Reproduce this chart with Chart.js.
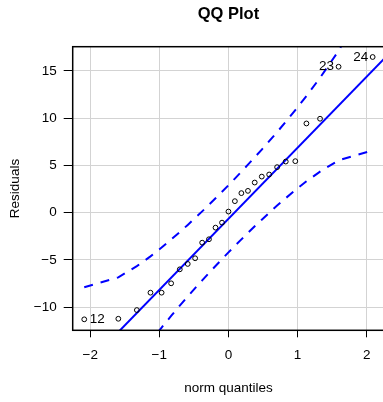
<!DOCTYPE html>
<html>
<head>
<meta charset="utf-8">
<script src="https://cdn.jsdelivr.net/npm/chart.js@4/dist/chart.umd.min.js"></script>
<style>
  html, body { margin: 0; padding: 0; background: #fff; overflow: hidden; }
  #wrap { width: 385px; height: 402px; }
  canvas { display: block; }
</style>
</head>
<body>
<div id="wrap"><canvas id="qq" width="385" height="402"></canvas></div>
<script>
// theoretical normal quantiles (x) and sorted residuals (y)
var normQuantiles = [-2.086, -1.593, -1.325, -1.128, -0.967, -0.829, -0.704, -0.589, -0.482,
    -0.380, -0.282, -0.187, -0.093, 0, 0.093, 0.187, 0.282, 0.380, 0.482, 0.589, 0.704,
    0.829, 0.967, 1.128, 1.325, 1.593, 2.086];
var residuals = [-11.29, -11.23, -10.31, -8.47, -8.47, -7.48, -6.00, -5.43, -4.83,
    -3.18, -2.82, -1.59, -1.06, 0.11, 1.21, 2.06, 2.30, 3.18, 3.81, 4.03, 4.81,
    5.40, 5.44, 9.43, 9.93, 15.43, 16.46];
// confidence envelope
var envUpper = [-7.90, -6.85, -5.66, -4.63, -3.70, -2.85, -2.06, -1.30, -0.57,
    0.13, 0.83, 1.51, 2.20, 2.89, 3.60, 4.33, 5.07, 5.85, 6.67, 7.56, 8.52,
    9.61, 10.84, 12.33, 14.26, 17.11, 23.48];
var envLower = [-24.80, -18.43, -15.58, -13.65, -12.16, -10.93, -9.84, -8.88, -7.99,
    -7.17, -6.39, -5.65, -4.92, -4.21, -3.52, -2.83, -2.15, -1.45, -0.75, -0.02, 0.74,
    1.53, 2.38, 3.31, 4.34, 5.53, 6.58];
// reference line end points
var fitX = [-2.26, 2.26];
var fitY = [-17.65, 16.34];
// labelled observations: index into the sorted arrays, and its label
var labelIdx = [0, 25, 26];
var labelText = ['12', '23', '24'];
var labelSide = ['right', 'left', 'left'];
var xTicks = [-2, -1, 0, 1, 2];
var yTicks = [-10, -5, 0, 5, 10, 15];

var FONT = 'Liberation Sans, Arial, Helvetica, sans-serif';

function pts(xs, ys) {
    var out = [];
    for (var i = 0; i < xs.length; i++) out.push({x: xs[i], y: ys[i]});
    return out;
}

// box round the plot region + point labels
var boxPlugin = {
    id: 'boxPlugin',
    afterDatasetsDraw(chart) {
        var ctx = chart.ctx, a = chart.chartArea;
        var xs = chart.scales.x, ys = chart.scales.y;
        ctx.save();
        ctx.font = '13.5px ' + FONT;
        ctx.fillStyle = '#000';
        ctx.textBaseline = 'middle';
        for (var k = 0; k < labelIdx.length; k++) {
            var i = labelIdx[k];
            var px = xs.getPixelForValue(normQuantiles[i]);
            var py = ys.getPixelForValue(residuals[i]);
            if (labelSide[k] == 'right') {
                ctx.textAlign = 'left';
                ctx.fillText(labelText[k], px + 5.5, py);
            } else {
                ctx.textAlign = 'right';
                ctx.fillText(labelText[k], px - 4.5, py);
            }
        }
        ctx.strokeStyle = '#000';
        ctx.lineWidth = 1.5;
        ctx.strokeRect(a.left, a.top, a.right - a.left, a.bottom - a.top);
        ctx.restore();
    }
};

var ctx = document.getElementById('qq');
var myChart = new Chart(ctx, {
    type: 'scatter',
    data: {
        datasets: [{
            label: 'residuals',
            data: pts(normQuantiles, residuals),
            showLine: false,
            pointStyle: 'circle',
            pointRadius: 2.4,
            pointBorderWidth: 1,
            borderColor: '#000',
            backgroundColor: 'rgba(0,0,0,0)',
        }, {
            label: 'fit',
            data: pts(fitX, fitY),
            showLine: true,
            pointRadius: 0,
            borderColor: '#0000ff',
            borderWidth: 2,
            fill: false,
        }, {
            label: 'upper',
            data: pts(normQuantiles, envUpper),
            showLine: true,
            pointRadius: 0,
            borderColor: '#0000ff',
            borderWidth: 2,
            borderDash: [9, 8],
            fill: false,
        }, {
            label: 'lower',
            data: pts(normQuantiles, envLower),
            showLine: true,
            pointRadius: 0,
            borderColor: '#0000ff',
            borderWidth: 2,
            borderDash: [9, 8],
            fill: false,
        }]
    },
    options: {
        responsive: false,
        animation: false,
        events: [],
        devicePixelRatio: 1,
        layout: { autoPadding: false, padding: { left: 0, right: 0.8, top: 0, bottom: 0 } },
        plugins: {
            legend: { display: false },
            tooltip: { enabled: false },
            title: {
                display: true,
                text: 'QQ Plot',
                fullSize: false,
                color: '#000',
                font: { family: FONT, size: 16.5, weight: 'bold' },
                padding: { top: 4.3, bottom: 22.6 },
            },
        },
        scales: {
            x: {
                type: 'linear',
                min: -2.253,
                max: 2.253,
                afterBuildTicks: function (scale) {
                    scale.ticks = xTicks.map(function (v) { return {value: v}; });
                },
                afterFit: function (scale) {
                    scale.height = 71.7;
                    scale.paddingLeft = 0;
                    scale.paddingRight = 0;
                },
                ticks: {
                    color: '#000',
                    padding: 10,
                    maxRotation: 0,
                    font: { family: FONT, size: 13.5 },
                    callback: function (v) { return String(v).replace('-', '\u2212'); },
                },
                grid: { color: '#d3d3d3', lineWidth: 1, tickLength: 7, tickColor: '#000' },
                border: { display: false },
                title: {
                    display: true,
                    text: 'norm quantiles',
                    color: '#000',
                    font: { family: FONT, size: 13.5 },
                    padding: { top: 0, bottom: 5.9 },
                },
            },
            y: {
                type: 'linear',
                min: -12.45,
                max: 17.55,
                afterBuildTicks: function (scale) {
                    scale.ticks = yTicks.map(function (v) { return {value: v}; });
                },
                afterFit: function (scale) {
                    scale.width = 72.7;
                    scale.paddingTop = 0;
                    scale.paddingBottom = 0;
                },
                ticks: {
                    color: '#000',
                    padding: 7,
                    font: { family: FONT, size: 13.5 },
                    callback: function (v) { return String(v).replace('-', '\u2212'); },
                },
                grid: { color: '#d3d3d3', lineWidth: 1, tickLength: 9, tickColor: '#000' },
                border: { display: false },
                title: {
                    display: true,
                    text: 'Residuals',
                    color: '#000',
                    font: { family: FONT, size: 13.5 },
                    padding: { top: 7.4, bottom: 0 },
                },
            },
        },
    },
    plugins: [boxPlugin],
});
</script>
</body>
</html>
